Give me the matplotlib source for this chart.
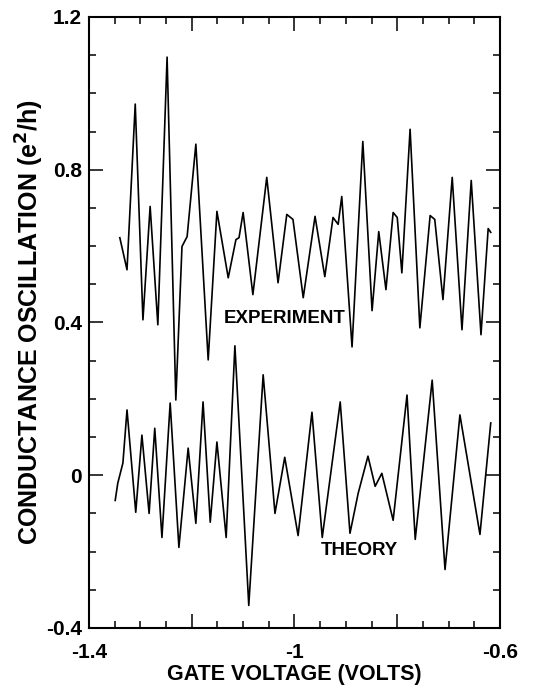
import matplotlib
matplotlib.use("Agg")
import matplotlib.pyplot as plt
from matplotlib.ticker import MultipleLocator, FixedLocator

plt.rcParams["font.family"] = ["Liberation Sans", "DejaVu Sans"]
plt.rcParams["font.weight"] = "bold"

# experiment trace: turning points (gate voltage, e^2/h)
exp_v = [-1.340, -1.326, -1.310, -1.295, -1.281, -1.266, -1.248, -1.231, -1.219, -1.209,
         -1.192, -1.168, -1.151, -1.129, -1.114, -1.108, -1.100, -1.081, -1.054, -1.032,
         -1.015, -1.003, -0.983, -0.960, -0.941, -0.925, -0.915, -0.908, -0.888, -0.867,
         -0.849, -0.836, -0.822, -0.808, -0.800, -0.791, -0.775, -0.756, -0.736, -0.727,
         -0.711, -0.693, -0.674, -0.656, -0.637, -0.623, -0.618]
exp_g = [0.622, 0.538, 0.972, 0.407, 0.704, 0.394, 1.095, 0.197, 0.599, 0.625,
         0.867, 0.302, 0.691, 0.517, 0.617, 0.622, 0.688, 0.473, 0.780, 0.504,
         0.683, 0.670, 0.465, 0.678, 0.520, 0.675, 0.657, 0.730, 0.336, 0.874,
         0.431, 0.638, 0.486, 0.688, 0.675, 0.530, 0.906, 0.386, 0.680, 0.670,
         0.460, 0.780, 0.381, 0.772, 0.368, 0.646, 0.636]

# theory trace
th_v = [-1.349, -1.344, -1.334, -1.326, -1.309, -1.297, -1.283, -1.272, -1.258, -1.242,
        -1.225, -1.207, -1.192, -1.178, -1.164, -1.151, -1.133, -1.116, -1.089, -1.061,
        -1.038, -1.019, -0.993, -0.966, -0.946, -0.911, -0.892, -0.876, -0.857, -0.843,
        -0.830, -0.808, -0.781, -0.765, -0.732, -0.707, -0.678, -0.639, -0.618]
th_g = [-0.066, -0.021, 0.032, 0.171, -0.097, 0.105, -0.100, 0.123, -0.163, 0.189,
        -0.189, 0.071, -0.126, 0.192, -0.123, 0.087, -0.163, 0.339, -0.341, 0.263,
        -0.100, 0.047, -0.158, 0.165, -0.163, 0.192, -0.152, -0.047, 0.050, -0.029,
        0.005, -0.118, 0.210, -0.168, 0.249, -0.247, 0.158, -0.155, 0.137]

x_ticks = [-1.4, -1.2, -1.0, -0.8, -0.6]
x_labels = ["-1.4", "", "-1", "", "-0.6"]
y_ticks = [-0.4, 0.0, 0.4, 0.8, 1.2]
y_labels = ["-0.4", "0", "0.4", "0.8", "1.2"]

fig = plt.figure(figsize=(5.42, 6.91), dpi=100)
ax = fig.add_axes([0.1642, 0.0912, 0.7583, 0.8842])

ax.plot(exp_v, exp_g, color="black", lw=1.2)
ax.plot(th_v, th_g, color="black", lw=1.2)

ax.text(-1.137, 0.41, "EXPERIMENT", fontsize=13.5, fontweight="bold", va="center", ha="left")
ax.text(-0.948, -0.197, "THEORY", fontsize=13.5, fontweight="bold", va="center", ha="left")

ax.set_xlim(-1.4, -0.6)
ax.set_ylim(-0.4, 1.2)
ax.xaxis.set_major_locator(FixedLocator(x_ticks))
ax.xaxis.set_minor_locator(MultipleLocator(0.05))
ax.yaxis.set_major_locator(FixedLocator(y_ticks))
ax.yaxis.set_minor_locator(MultipleLocator(0.1))
ax.set_xticklabels(x_labels)
ax.set_yticklabels(y_labels)

ax.tick_params(which="both", direction="in", top=True, right=True, width=1.1)
ax.tick_params(which="major", length=10, labelsize=15)
ax.tick_params(axis="x", which="major", pad=11)
ax.tick_params(axis="y", which="major", pad=5)
ax.tick_params(which="minor", length=5)
for s in ax.spines.values():
    s.set_linewidth(1.5)

ax.set_xlabel("GATE VOLTAGE (VOLTS)", fontsize=15.5, fontweight="bold", labelpad=1)
ax.set_ylabel("CONDUCTANCE OSCILLATION (e$^{2}$/h)", fontsize=18, fontweight="bold", labelpad=0)

fig.savefig("out.png", dpi=100)
